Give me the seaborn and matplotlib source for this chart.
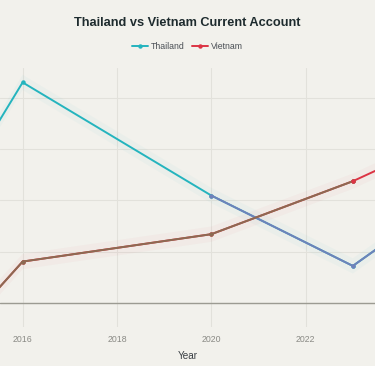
import pandas as pd
import matplotlib.pyplot as plt
import seaborn as sns

# --- data (% of GDP style units) ---
years = [2015, 2016, 2020, 2023, 2024]
thailand = [5.58, 8.61, 4.19, 1.44, 2.75]
vietnam = [-0.44, 1.61, 2.68, 4.75, 5.60]
countries = ['Thailand', 'Vietnam']
tick_years = [2016, 2018, 2020, 2022]

colors = {'Thailand': '#24B4BE', 'Vietnam': '#DC3444'}
# blended looking stretches in the original
blend = {'Thailand': ('#7081BA', 2020), 'Vietnam': ('#8C6A52', 2023)}

df = pd.DataFrame({
    'Year': years * 2,
    'value': thailand + vietnam,
    'country': ['Thailand'] * len(years) + ['Vietnam'] * len(years),
})

bg = '#F2F1EC'
sns.set_style("whitegrid")
plt.rcParams['font.family'] = ['Liberation Sans', 'DejaVu Sans']

fig = plt.figure(figsize=(3.75, 3.66), dpi=100, facecolor=bg)
ax = fig.add_axes([0, 0.107, 1, 0.707], facecolor=bg)

# faint bands along each line
for c in countries:
    sub = df[df['country'] == c]
    ax.fill_between(sub['Year'], sub['value'] - 0.3, sub['value'] + 0.3,
                    color=colors[c], alpha=0.035, linewidth=0, zorder=1)

lw = 1.4
ms = 3.2
sns.lineplot(data=df, x='Year', y='value', hue='country', palette=colors,
             marker='o', markersize=ms, markeredgewidth=0, linewidth=lw,
             ax=ax, zorder=3)

# recolour the stretches that look mixed in the original
sub = df[(df['country'] == 'Thailand') & (df['Year'] >= blend['Thailand'][1])]
ax.plot(sub['Year'], sub['value'], color=blend['Thailand'][0], marker='o',
        markersize=ms, markeredgewidth=0, linewidth=lw, zorder=4)
sub = df[(df['country'] == 'Vietnam') & (df['Year'] <= blend['Vietnam'][1])]
ax.plot(sub['Year'], sub['value'], color=blend['Vietnam'][0], marker='o',
        markersize=ms, markeredgewidth=0, linewidth=lw, zorder=4)
ax.plot(blend['Vietnam'][1], vietnam[years.index(blend['Vietnam'][1])], 'o',
        color=colors['Vietnam'], markersize=ms, markeredgewidth=0, zorder=5)

ax.axhline(0, color='#9C9B92', linewidth=1.0, zorder=2)
ax.set_xlim(2015.52, 2023.47)
ax.set_ylim(-0.94, 9.17)
ax.set_xticks(tick_years)
ax.set_yticks([0, 2, 4, 6, 8])
ax.set_yticklabels([])
ax.tick_params(axis='x', labelsize=6.3, labelcolor='#8A8A85', length=0, pad=6)
ax.tick_params(axis='y', length=0)
ax.grid(True, color='#E2E1DB', linewidth=0.8)
for s in ax.spines.values():
    s.set_visible(False)
ax.set_xlabel('Year', fontsize=7.2, color='#3A3F44', labelpad=5)
ax.set_ylabel('')

h, l = ax.get_legend_handles_labels()
ax.get_legend().remove()
fig.legend(h, l, loc='center', bbox_to_anchor=(0.5, 0.874), ncol=2, frameon=False,
           fontsize=6.3, labelcolor='#4A4F55', handlelength=1.8, columnspacing=0.8,
           handletextpad=0.4)

fig.text(0.5, 0.938, 'Thailand vs Vietnam Current Account', ha='center', va='center',
         fontsize=9.2, fontweight='bold', color='#1E2B2E')

plt.savefig('out.png', dpi=100, facecolor=bg)
